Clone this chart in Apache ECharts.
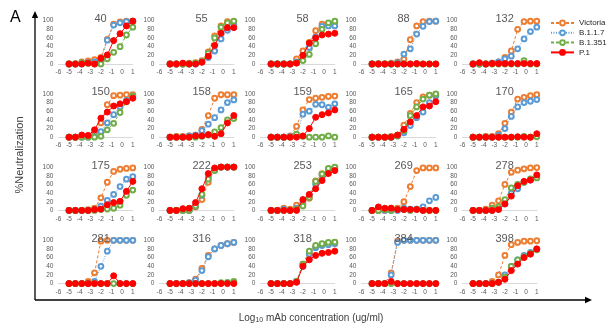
<!DOCTYPE html>
<html><head><meta charset="utf-8">
<script src="https://cdn.jsdelivr.net/npm/echarts@6/dist/echarts.min.js"></script>
<style>html,body{margin:0;padding:0;background:#fff}#c{width:616px;height:332px}</style>
</head><body><div id="c"></div>
<script>
// log10 concentrations (4-fold dilutions)
const xValues = [-5, -4.4, -3.8, -3.2, -2.6, -2.0, -1.4, -0.8, -0.2, 0.4, 1.0];
const panelNames = ['40','55','58','88','132','150','158','159','165','170','175','222','253','269','278','281','316','318','384','398'];
const seriesNames = ['Victoria','B.1.1.7','B.1.351','P.1'];
const xTicks = [-6,-5,-4,-3,-2,-1,0,1];
const yTicks = [0,20,40,60,80,100];

const victoria = [
  [0,0,5,7,10,15,57,92,97,99,99],
  [0,0,0,2,3,8,28,65,88,98,98],
  [0,0,0,0,12,30,50,77,92,93,95],
  [0,0,0,2,5,11,56,88,98,99,99],
  [0,0,0,2,5,15,30,80,98,99,99],
  [0,0,2,3,10,33,75,96,97,98,98],
  [0,2,2,3,5,18,50,90,98,98,98],
  [0,0,0,3,25,63,87,90,92,94,95],
  [0,0,0,2,5,28,55,80,93,97,98],
  [0,0,2,2,8,32,58,88,92,96,98],
  [0,0,0,2,5,29,65,90,95,97,98],
  [0,0,0,0,8,25,65,95,100,100,100],
  [0,0,5,3,12,15,28,68,85,95,98],
  [0,0,0,5,5,20,55,92,98,98,98],
  [0,0,3,12,22,60,88,93,96,98,99],
  [0,0,0,5,25,98,100,100,100,100,100],
  [0,0,0,2,10,35,65,80,88,92,95],
  [0,0,0,0,5,45,70,85,90,93,95],
  [0,0,0,25,98,100,100,100,100,100,100],
  [0,0,0,5,20,65,90,95,98,98,99]
];
const b117 = [
  [0,0,0,3,5,10,55,90,95,98,99],
  [0,0,0,0,0,5,15,30,58,78,92],
  [0,0,0,0,5,20,38,62,87,88,88],
  [0,0,0,0,3,23,35,69,87,98,99],
  [0,0,0,2,5,12,18,35,58,75,85],
  [0,0,0,0,2,13,33,52,70,85,95],
  [0,0,0,3,5,15,30,45,63,80,86],
  [0,0,0,2,5,53,60,76,75,69,77],
  [0,0,0,0,3,10,27,45,58,80,95],
  [0,0,0,0,5,20,48,70,80,83,87],
  [0,0,0,0,2,10,23,37,55,72,78],
  [0,0,0,0,10,35,75,93,100,100,100],
  [0,0,3,0,5,20,35,60,82,95,98],
  [0,0,0,0,0,5,3,3,8,22,30],
  [0,0,0,0,3,15,40,50,65,70,78],
  [0,0,0,0,5,40,75,100,100,100,100],
  [0,0,0,2,8,30,62,80,88,92,95],
  [0,0,0,0,5,40,68,83,88,90,92],
  [0,0,0,20,95,100,100,100,100,100,100],
  [0,0,0,0,3,20,40,55,65,72,80]
];
const b1351 = [
  [0,0,3,2,0,0,12,27,40,67,85],
  [0,0,0,0,2,5,25,60,85,95,99],
  [0,0,0,0,3,8,22,47,80,95,99],
  [0,1,0,0,0,0,0,0,0,0,0],
  [0,0,0,0,0,0,0,0,8,0,0],
  [0,0,0,0,0,2,17,32,57,82,95],
  [0,0,0,0,0,2,5,12,22,40,43],
  [0,0,0,0,7,2,0,0,0,3,0],
  [0,0,0,0,3,15,50,70,88,97,100],
  [0,0,0,0,0,0,0,0,2,0,1],
  [0,0,0,0,0,2,3,5,12,35,47],
  [0,0,0,0,10,37,72,92,100,100,100],
  [0,0,0,0,3,10,30,67,84,97,100],
  [0,0,2,0,3,2,0,3,0,0,0],
  [0,0,0,5,8,25,52,60,65,73,75],
  [0,0,0,0,0,0,0,0,0,0,0],
  [0,0,0,0,0,0,0,0,2,3,5],
  [0,0,0,0,5,45,75,88,92,95,96],
  [0,0,0,0,0,0,0,0,0,0,0],
  [0,0,0,0,3,15,40,55,62,70,78]
];
const p1 = [
  [0,0,0,2,0,13,21,54,70,88,99],
  [0,0,2,0,0,4,18,43,71,84,84],
  [0,0,0,0,2,20,48,60,67,69,71],
  [0,0,0,0,0,0,0,1,0,0,0],
  [0,3,0,1,1,1,1,1,1,1,1],
  [0,0,5,4,17,44,58,72,77,82,90],
  [0,0,0,0,3,3,6,2,8,33,50],
  [0,0,0,0,0,3,20,46,52,56,63],
  [0,0,0,0,5,18,35,50,70,72,82],
  [0,0,0,0,0,0,0,1,0,0,8],
  [0,0,0,0,2,3,13,18,21,44,67],
  [0,0,4,5,18,50,85,98,100,100,100],
  [0,0,0,0,0,25,37,50,69,85,92],
  [0,8,5,5,2,2,2,2,0,0,0],
  [0,0,0,0,2,15,33,57,67,70,82],
  [0,0,0,0,0,0,0,18,0,0,0],
  [0,0,0,0,0,0,0,0,0,0,0],
  [0,0,0,0,3,40,55,65,70,72,75],
  [0,0,0,5,0,0,0,0,0,0,0],
  [0,0,0,0,3,10,30,45,60,68,80]
];

const allData = [victoria, b117, b1351, p1];
const colors = ['#ED7D31','#5B9BD5','#70AD47','#FF0000'];
const lineTypes = [[3,2],[1,1.5],[3,2],'solid'];

const FONT = 'Liberation Sans, Arial, sans-serif';
const grids = [], xAxes = [], yAxes = [], series = [], titles = [];
const colX0 = 58.4, colStep = 101, gW = 74.4;
const rowY0 = 20.7, rowStep = 73.2, gH = 43.3;

panelNames.forEach((name, i) => {
  const r = Math.floor(i / 5), c = i % 5;
  const left = colX0 + colStep * c, top = rowY0 + rowStep * r;
  grids.push({left: left, top: top, width: gW, height: gH});
  titles.push({text: name, left: left + gW / 2, top: top - 12, textAlign: 'center',
    textStyle: {fontSize: 11, fontWeight: 'normal', color: '#595959', fontFamily: FONT}});
  xAxes.push({gridIndex: i, type: 'value', min: xTicks[0], max: xTicks[xTicks.length-1], interval: 1,
    axisLine: {show: true, onZero: false, lineStyle: {color: '#d9d9d9', width: 1}},
    axisTick: {show: false}, splitLine: {show: false},
    axisLabel: {fontSize: 6.5, color: '#595959', margin: 5, fontFamily: FONT}});
  yAxes.push({gridIndex: i, type: 'value', min: yTicks[0], max: yTicks[yTicks.length-1], interval: 20,
    axisLine: {show: false}, axisTick: {show: false}, splitLine: {show: false},
    axisLabel: {fontSize: 6.5, color: '#595959', margin: 5, fontFamily: FONT}});
  allData.forEach((set, s) => {
    const isP1 = s === 3;
    series.push({
      name: seriesNames[s], type: 'line', xAxisIndex: i, yAxisIndex: i,
      data: xValues.map((x, k) => [x, set[i][k]]),
      symbol: isP1 ? 'circle' : 'emptyCircle',
      symbolSize: isP1 ? 6 : 4.8,
      lineStyle: {color: colors[s], width: 1, type: lineTypes[s]},
      itemStyle: {color: colors[s], borderColor: colors[s], borderWidth: 1},
      z: 2 + s, animation: false
    });
  });
});

const chart = echarts.init(document.getElementById('c'), null, {renderer: 'canvas'});
chart.setOption({
  animation: false,
  backgroundColor: '#fff',
  title: titles,
  grid: grids, xAxis: xAxes, yAxis: yAxes, series: series,
  legend: {
    data: seriesNames, orient: 'vertical', left: 545, top: 14,
    itemWidth: 23, itemHeight: 6, itemGap: 1.8,
    textStyle: {fontSize: 8, color: '#262626', fontFamily: FONT, lineHeight: 8}
  },
  graphic: [
    {type: 'text', left: 10, top: 10, style: {text: 'A', fontSize: 16, fill: '#000', fontFamily: FONT}},
    {type: 'line', shape: {x1: 35, y1: 15, x2: 35, y2: 300}, style: {stroke: '#000', lineWidth: 1.3}},
    {type: 'polygon', shape: {points: [[35, 11], [31.8, 18], [38.2, 18]]}, style: {fill: '#000'}},
    {type: 'line', shape: {x1: 35, y1: 300, x2: 588, y2: 300}, style: {stroke: '#000', lineWidth: 1.3}},
    {type: 'polygon', shape: {points: [[592, 300], [585, 296.8], [585, 303.2]]}, style: {fill: '#000'}},
    {type: 'text', x: 20, y: 155, rotation: Math.PI / 2, style: {text: '%Neutralization', fontSize: 11, fill: '#404040', fontFamily: FONT, align: 'center', verticalAlign: 'middle'}},
    {type: 'text', x: 311, y: 318, style: {
      text: '{n|Log}{s|10}{n| mAb concentration (ug/ml)}', align: 'center', verticalAlign: 'middle', fontFamily: FONT,
      rich: {n: {fontSize: 10, fill: '#404040', fontFamily: FONT}, s: {fontSize: 7, fill: '#404040', fontFamily: FONT, padding: [5, 0, 0, 0]}}
    }}
  ]
});
</script></body></html>
